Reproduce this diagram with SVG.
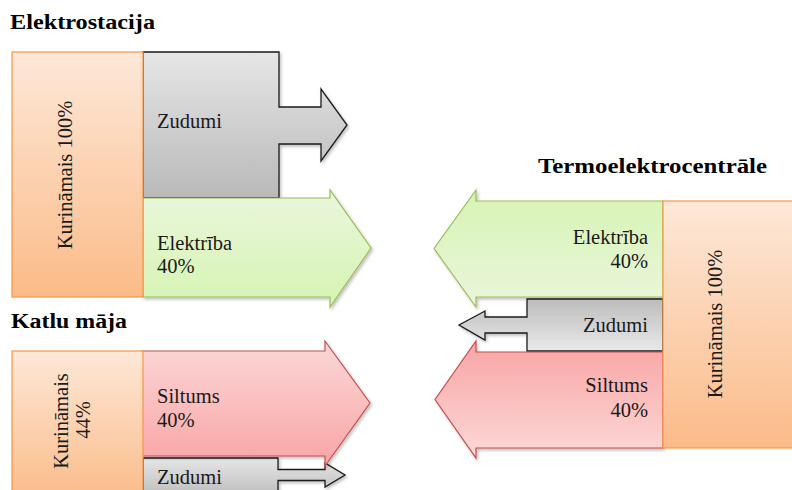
<svg xmlns="http://www.w3.org/2000/svg" width="792" height="490" viewBox="0 0 792 490">
<defs>
  <linearGradient id="gOr" x1="0" y1="0" x2="0" y2="1"><stop offset="0" stop-color="#fde8d8"/><stop offset="1" stop-color="#fbbb88"/></linearGradient>
  <linearGradient id="gGr" x1="0" y1="0" x2="0" y2="1"><stop offset="0" stop-color="#e6e6e6"/><stop offset="1" stop-color="#b9b9b9"/></linearGradient>
  <linearGradient id="gGrF" x1="0" y1="1" x2="0" y2="0"><stop offset="0" stop-color="#e9e9e9"/><stop offset="1" stop-color="#bcbcbc"/></linearGradient>
  <linearGradient id="gGn" x1="0" y1="0" x2="0" y2="1"><stop offset="0" stop-color="#eaf6dc"/><stop offset="1" stop-color="#d6f4b2"/></linearGradient>
  <linearGradient id="gGnF" x1="0" y1="1" x2="0" y2="0"><stop offset="0" stop-color="#eaf6dc"/><stop offset="1" stop-color="#d6f4b2"/></linearGradient>
  <linearGradient id="gRd" x1="0" y1="0" x2="0" y2="1"><stop offset="0" stop-color="#fcd8d8"/><stop offset="1" stop-color="#f9a4a4"/></linearGradient>
  <linearGradient id="gRdF" x1="0" y1="1" x2="0" y2="0"><stop offset="0" stop-color="#fcd8d8"/><stop offset="1" stop-color="#f9a4a4"/></linearGradient>
  <filter id="sh" x="-10%" y="-10%" width="130%" height="130%"><feDropShadow dx="1.5" dy="2" stdDeviation="1.5" flood-color="#000" flood-opacity="0.25"/></filter>
</defs>
<style>
  text{font-family:'Liberation Serif','DejaVu Serif',serif}
  .t{font-size:20.5px;fill:#1a1a1a}
  .h{font-size:20px;font-weight:bold;fill:#000}
  .or{fill:url(#gOr);stroke:#f79646;stroke-width:1.2}
  .gy{stroke:#1a1a1a;stroke-width:1.3;filter:url(#sh)}
  .gn{stroke:#9bbb59;stroke-width:1.2;filter:url(#sh)}
  .rd{stroke:#c0504d;stroke-width:1.2;filter:url(#sh)}
</style>
<rect width="792" height="490" fill="#fff"/>
<g font-family="Liberation Serif, DejaVu Serif, serif">
<!-- Elektrostacija -->
<g id="title-elektrostacija"><text class="h" x="10" y="29" textLength="145" lengthAdjust="spacingAndGlyphs">Elektrostacija</text></g>
<g id="es-zudumi">
  <polygon class="gy" fill="url(#gGr)" points="143,52 279,52 279,107 321,107 321,89 347,125 321,161 321,144 279,144 279,198 143,198"/>
  <text class="t" x="157" y="128">Zudumi</text>
</g>
<g id="es-elektriba">
  <polygon class="gn" fill="url(#gGn)" points="143,198 330,198 330,190 371,248 330,307 330,297 143,297"/>
  <text class="t" x="157" y="250">Elektrība</text>
  <text class="t" x="157" y="273">40%</text>
</g>
<g id="es-kurinamais">
  <rect class="or" x="12" y="52" width="131" height="245"/>
  <text class="t" text-anchor="middle" transform="translate(72,175) rotate(-90)">Kurināmais 100%</text>
</g>

<!-- Katlu māja -->
<g id="title-katlu"><text class="h" x="11" y="328" textLength="116" lengthAdjust="spacingAndGlyphs">Katlu māja</text></g>
<g id="km-zudumi">
  <polygon class="gy" fill="url(#gGr)" points="143,458 278,458 278,469.5 325,469.5 325,463 345,475 325,487 325,480.5 278,480.5 278,500 143,500"/>
  <text class="t" x="157" y="484">Zudumi</text>
</g>
<g id="km-siltums">
  <polygon class="rd" fill="url(#gRd)" points="142,351 325,351 325,341 370,403 325,466 325,456 142,456"/>
  <text class="t" x="157" y="403">Siltums</text>
  <text class="t" x="157" y="427">40%</text>
</g>
<g id="km-kurinamais">
  <rect class="or" x="12" y="351" width="131" height="150"/>
  <text class="t" text-anchor="middle" transform="translate(68,421) rotate(-90)">Kurināmais</text>
  <text class="t" text-anchor="middle" transform="translate(90,420) rotate(-90)">44%</text>
</g>

<!-- Termoelektrocentrāle -->
<g id="title-tec"><text class="h" x="538" y="173" textLength="229" lengthAdjust="spacingAndGlyphs">Termoelektrocentrāle</text></g>
<g id="tec-elektriba">
  <polygon class="gn" fill="url(#gGnF)" points="663,201 476,201 476,190 434,248.5 476,307 476,297 663,297"/>
  <text class="t" x="648" y="244" text-anchor="end">Elektrība</text>
  <text class="t" x="648" y="268" text-anchor="end">40%</text>
</g>
<g id="tec-zudumi">
  <polygon class="gy" fill="url(#gGrF)" points="663,299 527,299 527,317 485,317 485,311 459,325 485,340 485,333 527,333 527,351 663,351"/>
  <text class="t" x="648" y="332" text-anchor="end">Zudumi</text>
</g>
<g id="tec-siltums">
  <polygon class="rd" fill="url(#gRdF)" points="663,352 476,352 476,341 435,399.5 476,458 476,448 663,448"/>
  <text class="t" x="648" y="392" text-anchor="end">Siltums</text>
  <text class="t" x="648" y="417" text-anchor="end">40%</text>
</g>
<g id="tec-kurinamais">
  <rect class="or" x="663" y="201" width="140" height="247"/>
  <text class="t" text-anchor="middle" transform="translate(722,324) rotate(-90)">Kurināmais 100%</text>
</g>
</g>
<g id="connectors"></g>
</svg>
